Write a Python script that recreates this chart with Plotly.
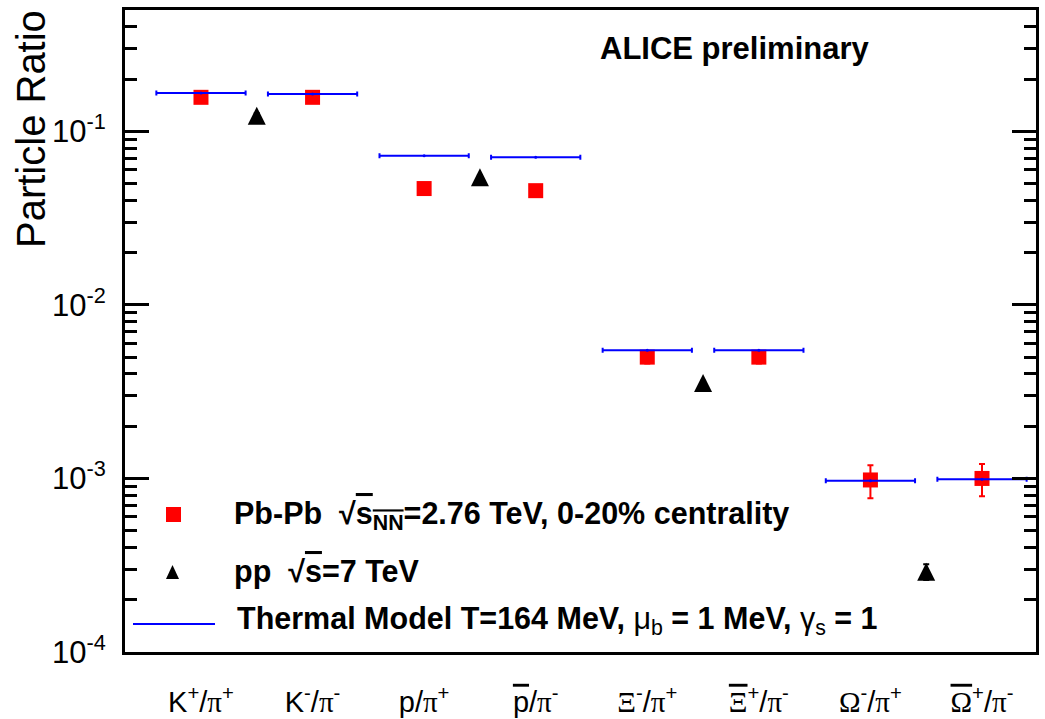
import plotly.graph_objects as go

# Ratio categories (x positions 0..7), thermal-model predictions and measurements
ratio_labels = [
    "K<sup>+</sup>/<span style='font-family:Liberation Serif'>π</span><sup>+</sup>",
    "K<sup>-</sup>/<span style='font-family:Liberation Serif'>π</span><sup>-</sup>",
    "p/<span style='font-family:Liberation Serif'>π</span><sup>+</sup>",
    "<span style='text-decoration:overline'>p</span>/<span style='font-family:Liberation Serif'>π</span><sup>-</sup>",
    "<span style='font-family:Liberation Serif'>Ξ</span><sup>-</sup>/<span style='font-family:Liberation Serif'>π</span><sup>+</sup>",
    "<span style='font-family:Liberation Serif;text-decoration:overline'>Ξ</span><sup>+</sup>/<span style='font-family:Liberation Serif'>π</span><sup>-</sup>",
    "<span style='font-family:Liberation Serif'>Ω</span><sup>-</sup>/<span style='font-family:Liberation Serif'>π</span><sup>+</sup>",
    "<span style='font-family:Liberation Serif;text-decoration:overline'>Ω</span><sup>+</sup>/<span style='font-family:Liberation Serif'>π</span><sup>-</sup>",
]
ratio_x = [0, 1, 2, 3, 4, 5, 6, 7]

thermal = [0.166, 0.164, 0.0723, 0.0710, 0.00547, 0.00547, 0.00097, 0.00099]
thermal_halfwidth = [0.4] * 8

pbpb = [0.157, 0.157, 0.0468, 0.0455, 0.0050, 0.0050, 0.00098, 0.00100]
pbpb_err = [0.004, 0.004, 0.0015, 0.0015, 0.0004, 0.0004, 0.00021, 0.00021]

pp_x = [0.5, 2.5, 4.5, 6.5]
pp = [0.123, 0.0543, 0.00355, 0.00029]
pp_err = [0.004, 0.0015, 0.0001, 0.00003]

y_ticks = [1e-4, 1e-3, 1e-2, 1e-1]
y_ticktext = ["10<sup>-4</sup>", "10<sup>-3</sup>", "10<sup>-2</sup>", "10<sup>-1</sup>"]
y_minor = [k * 10.0 ** e for e in range(-4, 0) for k in range(2, 10) if k * 10.0 ** e <= 0.5]

W, H = 1045, 719
L, R, T, B = 125, 9, 10, 67
FONT = "Liberation Sans, Arial, Helvetica, sans-serif"


def px(xp):
    return (xp - L) / (W - L - R)


def py(yp):
    return (H - B - yp) / (H - T - B)


fig = go.Figure()

fig.add_trace(go.Scatter(
    x=ratio_x, y=pbpb, mode="markers", name="Pb-Pb",
    marker=dict(symbol="square", size=15, color="#ff0000"),
    error_y=dict(type="data", array=pbpb_err, color="#ff0000", thickness=2, width=3),
))

fig.add_trace(go.Scatter(
    x=pp_x, y=pp, mode="markers", name="pp",
    marker=dict(symbol="arrow-down", angle=180, standoff=9, size=18, color="black"),
    error_y=dict(type="data", array=pp_err, color="black", thickness=2, width=3),
))

fig.add_trace(go.Scatter(
    x=ratio_x, y=thermal, mode="markers", name="Thermal Model",
    marker=dict(symbol="circle", size=3, color="#0000ff"),
    error_x=dict(type="data", array=thermal_halfwidth, color="#0000ff", thickness=2, width=2.5),
))

# Legend drawn as symbols plus text inside the frame
shapes = [
    dict(type="rect", xref="paper", yref="paper",
         x0=px(166), x1=px(181), y0=py(522), y1=py(507),
         fillcolor="#ff0000", line=dict(width=0)),
    dict(type="path", xref="paper", yref="paper",
         path="M {a},{b} L {c},{b} L {d},{e} Z".format(
             a=px(166), c=px(179), b=py(579), d=px(172.5), e=py(565)),
         fillcolor="black", line=dict(width=0)),
    dict(type="line", xref="paper", yref="paper",
         x0=px(133), x1=px(215), y0=py(624), y1=py(624),
         line=dict(color="#0000ff", width=2)),
]

ov = "<span style='text-decoration:overline'>"
annotations = [
    dict(text="<b>ALICE preliminary</b>", x=px(598), y=py(48), xref="paper", yref="paper",
         xanchor="left", yanchor="middle", showarrow=False,
         font=dict(family=FONT, size=31, color="black")),
    dict(text="<b>Pb-Pb\u00a0\u00a0√" + ov + "s<sub>NN</sub></span>=2.76 TeV, 0-20% centrality</b>",
         x=px(232), y=py(515), xref="paper", yref="paper",
         xanchor="left", yanchor="middle", showarrow=False,
         font=dict(family=FONT, size=30.5, color="black")),
    dict(text="<b>pp\u00a0\u00a0√" + ov + "s</span>=7 TeV</b>",
         x=px(232), y=py(571), xref="paper", yref="paper",
         xanchor="left", yanchor="middle", showarrow=False,
         font=dict(family=FONT, size=30.5, color="black")),
    dict(text="<b>Thermal Model T=164 MeV, </b>μ<sub>b</sub><b> = 1 MeV, </b>γ<sub>s</sub><b> = 1</b>",
         x=px(235), y=py(620), xref="paper", yref="paper",
         xanchor="left", yanchor="middle", showarrow=False,
         font=dict(family=FONT, size=30.5, color="black")),
    dict(text="Particle Ratio", textangle=-90, x=px(31), y=py(129), xref="paper", yref="paper",
         xanchor="center", yanchor="middle", showarrow=False,
         font=dict(family=FONT, size=40, color="black")),
]

fig.update_layout(
    width=W, height=H,
    margin=dict(l=L, r=R, t=T, b=B, autoexpand=False),
    paper_bgcolor="white", plot_bgcolor="white",
    showlegend=False,
    shapes=shapes,
    annotations=annotations,
    font=dict(family=FONT, color="black"),
    xaxis=dict(
        range=[-0.681, 7.484], showgrid=False, zeroline=False, automargin=False,
        showline=True, linecolor="black", linewidth=3, mirror=True,
        ticks="", tickmode="array", tickvals=ratio_x, ticktext=ratio_labels,
        tickfont=dict(family=FONT, size=29, color="black"),
        ticklabelstandoff=22,
    ),
    yaxis=dict(
        type="log", range=[-4, -0.301], showgrid=False, zeroline=False, automargin=False,
        showline=True, linecolor="black", linewidth=3, mirror="ticks",
        ticks="inside", ticklen=24, tickwidth=3, tickcolor="black",
        tickmode="array", tickvals=y_ticks, ticktext=y_ticktext,
        tickfont=dict(family=FONT, size=31, color="black"),
        ticklabelstandoff=10,
        minor=dict(ticks="inside", ticklen=12, tickwidth=3, tickcolor="black",
                   tickmode="array", tickvals=y_minor, showgrid=False),
    ),
)

fig.write_html("out.html")
